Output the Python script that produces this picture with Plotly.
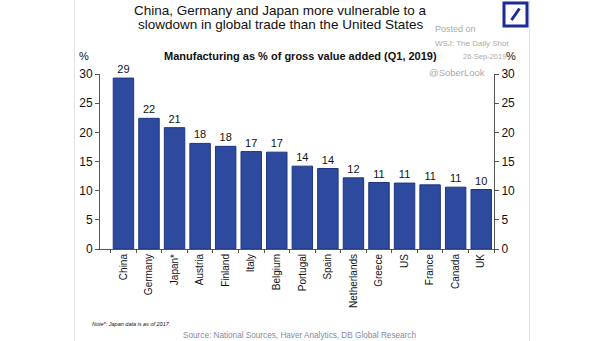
import plotly.graph_objects as go

countries = ["China", "Germany", "Japan*", "Austria", "Finland", "Italy", "Belgium",
             "Portugal", "Spain", "Netherlands", "Greece", "US", "France", "Canada", "UK"]
values = [29.3, 22.4, 20.8, 18.1, 17.6, 16.7, 16.6, 14.2, 13.8, 12.2, 11.4, 11.3, 11.0, 10.6, 10.2]
ticks = [0, 5, 10, 15, 20, 25, 30]

W, H = 605, 341
L, R, T, B = 100, 111, 74, 92
PW, PH = W - L - R, H - T - B


def px(x):
    return (x - L) / PW


def py(y):
    return (H - B - y) / PH


FONT = "Liberation Sans, Arial, sans-serif"
BAR = "#2E4A9E"

fig = go.Figure()
fig.add_trace(go.Bar(
    x=countries, y=values,
    marker=dict(color=BAR, line=dict(color="#1E3680", width=1)),
    text=[f"{round(v)}" for v in values],
    textposition="outside",
    textfont=dict(family=FONT, size=11, color="#111111"),
    cliponaxis=False,
    hoverinfo="x+y",
))
# invisible trace for the right axis
fig.add_trace(go.Scatter(x=[countries[0]], y=[0], yaxis="y2", mode="markers",
                         marker=dict(opacity=0), showlegend=False, hoverinfo="skip"))

axis_common = dict(range=[0, 30], tickvals=ticks, ticks="outside", ticklen=4,
                   tickcolor="#555555", showline=True, linecolor="#555555", linewidth=1,
                   showgrid=False, zeroline=False,
                   tickfont=dict(family=FONT, size=12, color="#111111"), fixedrange=True)

fig.update_layout(
    width=W, height=H,
    margin=dict(l=L, r=R, t=T, b=B, pad=0),
    paper_bgcolor="white", plot_bgcolor="white",
    showlegend=False,
    bargap=0.2,
    font=dict(family=FONT),
    xaxis=dict(tickangle=-90, ticks="outside", tickson="boundaries", ticklen=3,
               tickcolor="#555555", showline=True, linecolor="#555555", linewidth=1,
               tickfont=dict(family=FONT, size=10, color="#111111"), fixedrange=True),
    yaxis=dict(**axis_common, side="left"),
    yaxis2=dict(**axis_common, side="right", overlaying="y", anchor="x"),
)

ann = []


def text(x, y, s, size, color="#111111", xanchor="center", bold=False, italic=False):
    if bold:
        s = f"<b>{s}</b>"
    if italic:
        s = f"<i>{s}</i>"
    ann.append(dict(x=px(x), y=py(y), xref="paper", yref="paper", text=s, showarrow=False,
                    xanchor=xanchor, yanchor="middle",
                    font=dict(family=FONT, size=size, color=color)))


text(280, 10, "China, Germany and Japan more vulnerable to a", 13.5)
text(280, 24.5, "slowdown in global trade than the United States", 13.5)
text(300.5, 56, "Manufacturing as % of gross value added (Q1, 2019)", 11, bold=True)
text(84, 56, "%", 11)
text(511, 56, "%", 11)
text(433, 29, "Posted on", 9, color="#AAAAAA", xanchor="left")
text(433, 43, "WSJ: The Daily Shot", 8, color="#AAAAAA", xanchor="left")
text(508, 56, "26-Sep-2019", 7.5, color="#AAAAAA", xanchor="right")
text(487, 73, "@SoberLook", 9.5, color="#AAAAAA", xanchor="right")
text(90, 324, "Note*: Japan data is as of 2017.", 5.5, xanchor="left", italic=True)
text(299, 335, "Source: National Sources, Haver Analytics, DB Global Research", 8.2,
     color="#7F8AA6")
fig.update_layout(annotations=ann)

shapes = []
# card borders
for xx in (74.5, 529.5):
    shapes.append(dict(type="line", xref="paper", yref="paper", x0=px(xx), x1=px(xx),
                       y0=py(0), y1=py(341), line=dict(color="#E2E2E2", width=1)))
# DB logo
shapes.append(dict(type="rect", xref="paper", yref="paper", x0=px(504), x1=px(527),
                   y0=py(3), y1=py(26), line=dict(color="#1B2D95", width=3),
                   fillcolor="white"))
shapes.append(dict(type="line", xref="paper", yref="paper", x0=px(511.5), x1=px(519.5),
                   y0=py(20), y1=py(8.5), line=dict(color="#1B2D95", width=3)))
fig.update_layout(shapes=shapes)

fig.write_html("out.html")
